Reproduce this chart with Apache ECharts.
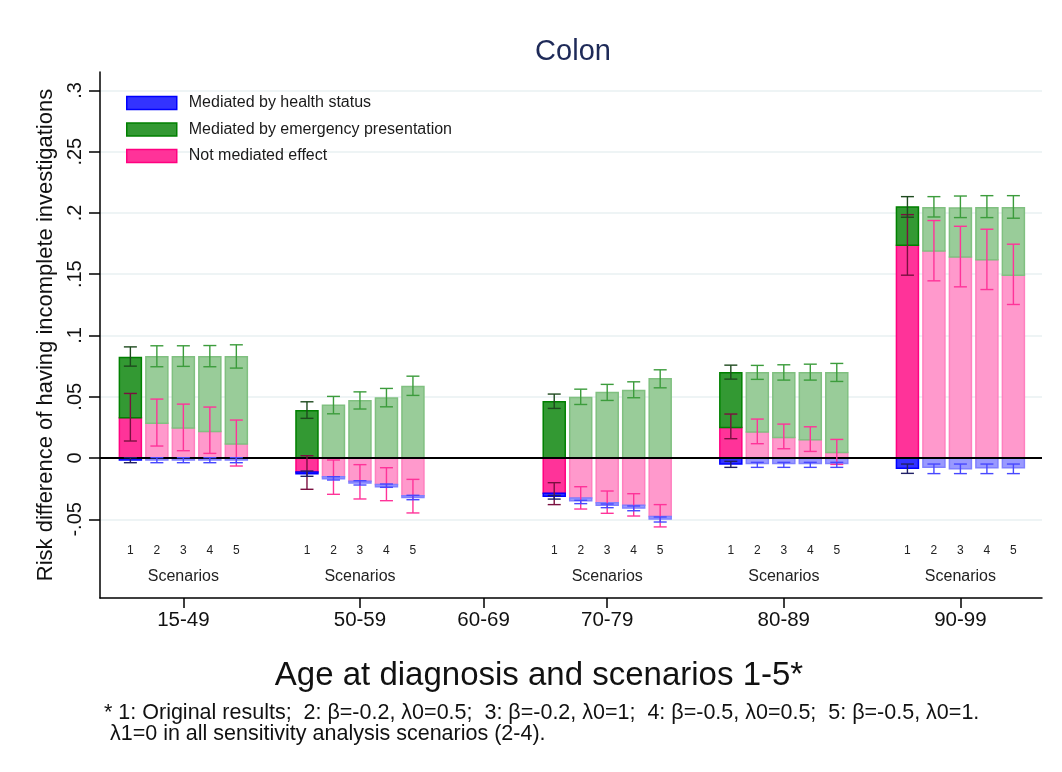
<!DOCTYPE html>
<html><head><meta charset="utf-8">
<script src="https://cdn.jsdelivr.net/npm/echarts@6/dist/echarts.min.js"></script>
<style>html,body{margin:0;padding:0;background:#fff}#c{width:1062px;height:772px}</style>
</head><body><div id="c"></div>
<script>
// ---- data ----
const ageGroups = ['15-49', '50-59', '60-69', '70-79', '80-89', '90-99'];
const ageGroupX = [0, 10, 17, 24, 34, 44];
const scenarios = ['1', '2', '3', '4', '5'];
const scenarioOffset = [-3, -1.5, 0, 1.5, 3];
const barGroups = ['15-49', '50-59', '70-79', '80-89', '90-99'];

// Not mediated effect (rows = barGroups, cols = scenarios 1-5)
const notMediated = [
  [0.0329, 0.0283, 0.0245, 0.0217, 0.0114],
  [-0.0114, -0.0152, -0.0190, -0.0215, -0.0307],
  [-0.0288, -0.0326, -0.0364, -0.0386, -0.0476],
  [0.0250, 0.0212, 0.0168, 0.0150, 0.0046],
  [0.1736, 0.1690, 0.1641, 0.1617, 0.1492]
];
// Mediated by emergency presentation
const emergency = [
  [0.0492, 0.0543, 0.0581, 0.0609, 0.0712],
  [0.0386, 0.0430, 0.0467, 0.0489, 0.0584],
  [0.0459, 0.0495, 0.0535, 0.0552, 0.0647],
  [0.0446, 0.0484, 0.0528, 0.0546, 0.0650],
  [0.0313, 0.0353, 0.0399, 0.0426, 0.0551]
];
// Mediated by health status
const health = [
  [-0.0015, -0.0015, -0.0015, -0.0015, -0.0015],
  [-0.0014, -0.0016, -0.0014, -0.0019, -0.0014],
  [-0.0024, -0.0022, -0.0022, -0.0022, -0.0021],
  [-0.0049, -0.0045, -0.0045, -0.0045, -0.0045],
  [-0.0084, -0.0076, -0.0087, -0.0080, -0.0080]
];
// confidence intervals as plotted (cumulative positions) [low, high]
const notMediatedCI = [
  [[0.0139, 0.0527], [0.0098, 0.0481], [0.0060, 0.0440], [0.0038, 0.0416], [-0.0065, 0.0310]],
  [[-0.0255, 0.0019], [-0.0296, -0.0016], [-0.0334, -0.0054], [-0.0348, -0.0079], [-0.0448, -0.0174]],
  [[-0.0380, -0.0201], [-0.0416, -0.0234], [-0.0451, -0.0269], [-0.0473, -0.0291], [-0.0562, -0.0380]],
  [[0.0158, 0.0359], [0.0117, 0.0318], [0.0076, 0.0277], [0.0054, 0.0255], [-0.0052, 0.0152]],
  [[0.1492, 0.1986], [0.1446, 0.1938], [0.1397, 0.1891], [0.1375, 0.1867], [0.1253, 0.1745]]
];
const emergencyCI = [
  [[0.0750, 0.0907], [0.0745, 0.0916], [0.0748, 0.0916], [0.0745, 0.0918], [0.0734, 0.0924]],
  [[0.0324, 0.0459], [0.0361, 0.0503], [0.0400, 0.0540], [0.0418, 0.0568], [0.0511, 0.0668]],
  [[0.0405, 0.0522], [0.0437, 0.0562], [0.0470, 0.0601], [0.0492, 0.0622], [0.0573, 0.0720]],
  [[0.0644, 0.0758], [0.0642, 0.0756], [0.0636, 0.0761], [0.0636, 0.0766], [0.0625, 0.0772]],
  [[0.1965, 0.2133], [0.1967, 0.2133], [0.1962, 0.2138], [0.1962, 0.2141], [0.1957, 0.2141]]
];
const healthCI = [
  [[-0.0038, 0.0003], [-0.0038, 0.0003], [-0.0038, 0.0003], [-0.0038, 0.0003], [-0.0038, 0.0003]],
  [[-0.0149, -0.0106], [-0.0179, -0.0152], [-0.0220, -0.0185], [-0.0239, -0.0212], [-0.0340, -0.0304]],
  [[-0.0335, -0.0305], [-0.0372, -0.0345], [-0.0405, -0.0375], [-0.0430, -0.0391], [-0.0522, -0.0481]],
  [[-0.0076, -0.0027], [-0.0076, -0.0035], [-0.0076, -0.0035], [-0.0076, -0.0035], [-0.0076, -0.0035]],
  [[-0.0125, -0.0049], [-0.0127, -0.0049], [-0.0127, -0.0049], [-0.0127, -0.0049], [-0.0127, -0.0049]]
];
const yTicks = [-0.05, 0, 0.05, 0.1, 0.15, 0.2, 0.25, 0.3];
const seriesNames = { pink: 'Not mediated effect', green: 'Mediated by emergency presentation', blue: 'Mediated by health status' };

// ---- styles ----
const FONT = 'Liberation Sans, Arial, Helvetica, sans-serif';
const compStyle = {
  pink:  { dark: ['#ff3399', '#ff0080'], light: ['#ff99cc', '#ff80bf'], err: ['#7a1040', '#ff3399'] },
  green: { dark: ['#339933', '#008000'], light: ['#99cc99', '#80c080'], err: ['#1e4a1e', '#3c9c3c'] },
  blue:  { dark: ['#3333ff', '#0000ff'], light: ['#9999ff', '#8080ff'], err: ['#202066', '#4848ff'] }
};
const BAR_W = 22;
const SCEN_NUM_Y = -0.0758;
const SCEN_LABEL_Y = -0.097;

function barX(gi, si) {
  return ageGroupX[ageGroups.indexOf(barGroups[gi])] + scenarioOffset[si];
}
// stacked segments: pink from 0; green on top of positive stack; blue under negative stack
function segments(comp) {
  const out = [];
  barGroups.forEach((g, gi) => scenarios.forEach((s, si) => {
    const p = notMediated[gi][si], e = emergency[gi][si], h = health[gi][si];
    let y0, y1;
    if (comp === 'pink') { y0 = 0; y1 = p; }
    else if (comp === 'green') { y0 = p > 0 ? p : 0; y1 = y0 + e; }
    else { y0 = p < 0 ? p : 0; y1 = y0 + h; }
    out.push([barX(gi, si), y0, y1, si]);
  }));
  return out;
}
const compIdx = { pink: 0, green: 1, blue: 2 };
const compNames = ['pink', 'green', 'blue'];
function errData(ci, comp) {
  const out = [];
  ci.forEach((row, gi) => row.forEach((r, si) => {
    out.push([barX(gi, si), r[0], r[1], compIdx[comp], si]);
  }));
  return out;
}
const errAll = [].concat(errData(notMediatedCI, 'pink'), errData(emergencyCI, 'green'), errData(healthCI, 'blue'));

const scenLabelData = [];
barGroups.forEach((g, gi) => scenarios.forEach((s, si) => scenLabelData.push([barX(gi, si), SCEN_NUM_Y, s])));
const groupLabelData = barGroups.map(g => [ageGroupX[ageGroups.indexOf(g)], SCEN_LABEL_Y, 'Scenarios']);

function fmtY(v) {
  if (Math.abs(v) < 1e-9) return '0';
  const s = String(Math.round(Math.abs(v) * 1000) / 1000).replace(/^0/, '');
  return (v < 0 ? '-' : '') + s;
}

function barSeries(comp, z) {
  const d = compStyle[comp];
  return {
    type: 'custom', name: seriesNames[comp], z: z,
    data: segments(comp), encode: { x: 0, y: [1, 2] },
    itemStyle: { color: d.dark[0], borderColor: d.dark[1], borderWidth: 1.5 },
    renderItem: (params, api) => {
      const x = api.value(0), y0 = api.value(1), y1 = api.value(2), si = api.value(3);
      const a = api.coord([x, y0]), b = api.coord([x, y1]);
      const st = si === 0 ? d.dark : d.light;
      return {
        type: 'rect',
        shape: { x: a[0] - BAR_W / 2, y: Math.min(a[1], b[1]), width: BAR_W, height: Math.abs(a[1] - b[1]) },
        style: { fill: st[0], stroke: st[1], lineWidth: 1.5 }
      };
    }
  };
}

const chart = echarts.init(document.getElementById('c'), null, { renderer: 'canvas' });

chart.setOption({
  animation: false,
  backgroundColor: '#ffffff',
  textStyle: { fontFamily: FONT },
  grid: { left: 100, right: 20, top: 72, bottom: 174 },
  legend: {
    orient: 'vertical', left: 121, top: 90,
    itemWidth: 50, itemHeight: 13, itemGap: 10.5,
    icon: 'rect',
    data: ['blue', 'green', 'pink'].map(c => ({
      name: seriesNames[c],
      itemStyle: { color: compStyle[c].dark[0], borderColor: compStyle[c].dark[1], borderWidth: 1.5 }
    })),
    textStyle: { fontSize: 16, color: '#1a1a1a', fontFamily: FONT, padding: [0, 0, 0, 7] }
  },
  graphic: [
    { type: 'text', x: 573, y: 52, style: { text: 'Colon', font: '29px ' + FONT, fill: '#1e2a58', textAlign: 'center', textVerticalAlign: 'middle' } },
    { type: 'text', x: 539, y: 676, style: { text: 'Age at diagnosis and scenarios 1-5*', font: '33px ' + FONT, fill: '#111', textAlign: 'center', textVerticalAlign: 'middle' } },
    { type: 'text', x: 104, y: 713, style: { text: '* 1: Original results;  2: \u03b2=-0.2, \u03bb0=0.5;  3: \u03b2=-0.2, \u03bb0=1;  4: \u03b2=-0.5, \u03bb0=0.5;  5: \u03b2=-0.5, \u03bb0=1.', font: '21.5px ' + FONT, fill: '#111', textVerticalAlign: 'middle' } },
    { type: 'text', x: 104, y: 734, style: { text: ' \u03bb1=0 in all sensitivity analysis scenarios (2-4).', font: '21.5px ' + FONT, fill: '#111', textVerticalAlign: 'middle' } }
  ],
  xAxis: {
    type: 'value', min: -4.72, max: 48.62,
    axisLine: { show: true, onZero: false, lineStyle: { color: '#000', width: 1.5 } },
    axisTick: { show: true, length: 10, customValues: ageGroupX, lineStyle: { color: '#000', width: 1.5 } },
    axisLabel: {
      customValues: ageGroupX, fontSize: 20.5, color: '#111', margin: 12, fontFamily: FONT,
      formatter: v => { const i = ageGroupX.findIndex(x => Math.abs(x - v) < 1e-6); return i >= 0 ? ageGroups[i] : ''; }
    },
    splitLine: { show: false }
  },
  yAxis: {
    type: 'value', min: -0.1142, max: 0.315,
    name: 'Risk difference of having incomplete investigations',
    nameLocation: 'middle', nameGap: 32, nameRotate: 90,
    nameTextStyle: { fontSize: 22, color: '#111', fontFamily: FONT },
    axisLine: { show: true, onZero: false, lineStyle: { color: '#000', width: 1.5 } },
    axisTick: { show: true, length: 11, customValues: yTicks, lineStyle: { color: '#000', width: 1.5 } },
    axisLabel: { customValues: yTicks, rotate: 90, fontSize: 20, color: '#111', margin: 15, formatter: fmtY, fontFamily: FONT },
    splitLine: { show: true, lineStyle: { color: '#e8f0f2', width: 1.5 } }
  },
  series: [
    barSeries('pink', 2),
    barSeries('green', 2),
    barSeries('blue', 2),
    {
      type: 'custom', name: 'ci', z: 5, silent: true,
      data: errAll,
      encode: { x: 0, y: [1, 2] },
      renderItem: (params, api) => {
        const x = api.value(0), lo = api.value(1), hi = api.value(2);
        const comp = compNames[api.value(3)], si = api.value(4);
        const color = compStyle[comp].err[si === 0 ? 0 : 1];
        const p1 = api.coord([x, lo]), p2 = api.coord([x, hi]);
        const hw = 6.5;
        const st = { stroke: color, lineWidth: 1.4 };
        return { type: 'group', children: [
          { type: 'line', shape: { x1: p1[0], y1: p1[1], x2: p2[0], y2: p2[1] }, style: st },
          { type: 'line', shape: { x1: p1[0] - hw, y1: p1[1], x2: p1[0] + hw, y2: p1[1] }, style: st },
          { type: 'line', shape: { x1: p2[0] - hw, y1: p2[1], x2: p2[0] + hw, y2: p2[1] }, style: st }
        ] };
      },
      markLine: {
        silent: true, symbol: 'none', label: { show: false },
        lineStyle: { color: '#000', width: 2, type: 'solid' },
        data: [{ yAxis: 0 }]
      }
    },
    {
      type: 'custom', name: 'scenLabels', silent: true, z: 3,
      data: scenLabelData, encode: { x: 0, y: 1 },
      renderItem: (params, api) => {
        const p = api.coord([api.value(0), api.value(1)]);
        return { type: 'text', x: p[0], y: p[1], style: { text: scenLabelData[params.dataIndex][2], font: '12px ' + FONT, fill: '#222', textAlign: 'center', textVerticalAlign: 'middle' } };
      }
    },
    {
      type: 'custom', name: 'groupLabels', silent: true, z: 3,
      data: groupLabelData, encode: { x: 0, y: 1 },
      renderItem: (params, api) => {
        const p = api.coord([api.value(0), api.value(1)]);
        return { type: 'text', x: p[0], y: p[1], style: { text: groupLabelData[params.dataIndex][2], font: '16px ' + FONT, fill: '#222', textAlign: 'center', textVerticalAlign: 'middle' } };
      }
    }
  ]
});
</script>
</body></html>
